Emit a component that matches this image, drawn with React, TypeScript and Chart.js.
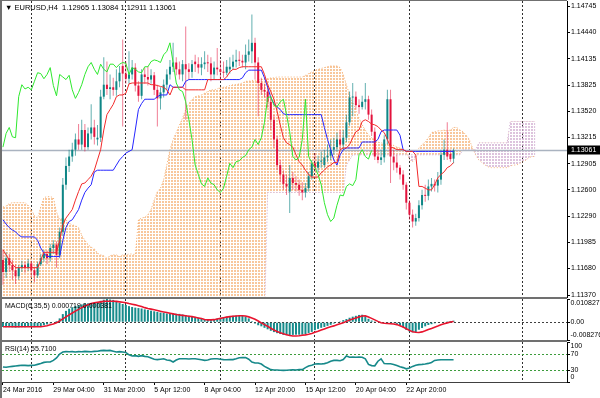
import React, { useEffect, useRef } from 'react';
import { Chart, registerables } from 'chart.js';

Chart.register(...registerables);

const FONT_FAMILY = '"Liberation Sans", Arial, "DejaVu Sans", sans-serif';
const FONT_SIZE = 7;

// ---------- Candles (EURUSD H4) ----------
const openP = [
  1.1178, 1.1164, 1.1180, 1.1172, 1.1166, 1.1159, 1.1169, 1.1172, 1.1169, 1.1174,
  1.1166, 1.1160, 1.1173, 1.1180, 1.1185, 1.1180, 1.1192, 1.1196, 1.1184, 1.1211,
  1.1266, 1.1288, 1.1299, 1.1307, 1.1319, 1.1313, 1.1330, 1.1310, 1.1326, 1.1333,
  1.1319, 1.1321, 1.1369, 1.1383, 1.1378, 1.1380, 1.1377, 1.1387, 1.1405, 1.1396,
  1.1390, 1.1395, 1.1403, 1.1382, 1.1370, 1.1395, 1.1392, 1.1389, 1.1394, 1.1377,
  1.1367, 1.1374, 1.1383, 1.1395, 1.1404, 1.1409, 1.1401, 1.1395, 1.1407, 1.1401,
  1.1398, 1.1410, 1.1407, 1.1403, 1.1407, 1.1409, 1.1408, 1.1395, 1.1403, 1.1401,
  1.1398, 1.1397, 1.1401, 1.1404, 1.1410, 1.1412, 1.1411, 1.1409, 1.1418, 1.1422,
  1.1432, 1.1409, 1.1385, 1.1377, 1.1375, 1.1363, 1.1342, 1.1319, 1.1289, 1.1278,
  1.1267, 1.1258, 1.1274, 1.1268, 1.1266, 1.1260, 1.1257, 1.1262, 1.1276, 1.1291,
  1.1286, 1.1293, 1.1289, 1.1298, 1.1300, 1.1307, 1.1310, 1.1319, 1.1313, 1.1321,
  1.1339, 1.1368, 1.1369, 1.1359, 1.1357, 1.1363, 1.1366, 1.1348, 1.1328, 1.1299,
  1.1295, 1.1298, 1.1319, 1.1366, 1.1299, 1.1292, 1.1286, 1.1278, 1.1266, 1.1245,
  1.1231, 1.1223, 1.1227, 1.1242, 1.1254, 1.1253, 1.1264, 1.1267, 1.1265, 1.1272,
  1.1301, 1.1307, 1.1302, 1.12965,
];
const highP = [
  1.1190, 1.1187, 1.1185, 1.1178, 1.1173, 1.1172, 1.1177, 1.1176, 1.1179, 1.1177,
  1.1170, 1.1176, 1.1185, 1.1190, 1.1189, 1.1197, 1.1201, 1.1200, 1.1216, 1.1274,
  1.1298, 1.1307, 1.1315, 1.1326, 1.1337, 1.1342, 1.1337, 1.1333, 1.1360, 1.1342,
  1.1336, 1.1377, 1.1415, 1.1410, 1.1395, 1.1391, 1.1401, 1.1405, 1.1436, 1.1410,
  1.1422, 1.1412, 1.1408, 1.1387, 1.1401, 1.1403, 1.1405, 1.1401, 1.1398, 1.1383,
  1.1380, 1.1389, 1.1401, 1.1412, 1.1432, 1.1415, 1.1410, 1.1412, 1.1451, 1.1408,
  1.1412, 1.1418, 1.1415, 1.1415, 1.1422, 1.1418, 1.1415, 1.1410, 1.1426, 1.1412,
  1.1410, 1.1412, 1.1415, 1.1418, 1.1424, 1.1422, 1.1418, 1.1430, 1.1436, 1.1465,
  1.1438, 1.1415, 1.1391, 1.1384, 1.1382, 1.1368, 1.1348, 1.1323, 1.1295, 1.1283,
  1.1278, 1.1289, 1.1281, 1.1276, 1.1272, 1.1269, 1.1268, 1.1281, 1.1295, 1.1303,
  1.1300, 1.1305, 1.1307, 1.1313, 1.1319, 1.1321, 1.1327, 1.1330, 1.1330, 1.1348,
  1.1375, 1.1385, 1.1375, 1.1366, 1.1370, 1.1385, 1.1370, 1.1354, 1.1333, 1.1307,
  1.1307, 1.1324, 1.1377, 1.1377, 1.1307, 1.1301, 1.1289, 1.1283, 1.1269, 1.1248,
  1.1237, 1.1232, 1.1248, 1.1260, 1.1266, 1.1272, 1.1274, 1.1272, 1.1281, 1.1307,
  1.1319, 1.1339, 1.1307, 1.13084,
];
const lowP = [
  1.1149, 1.1157, 1.1164, 1.1155, 1.1150, 1.1155, 1.1164, 1.1163, 1.1165, 1.1158,
  1.1152, 1.1157, 1.1171, 1.1176, 1.1173, 1.1176, 1.1185, 1.1169, 1.1180, 1.1206,
  1.1260, 1.1281, 1.1293, 1.1300, 1.1307, 1.1307, 1.1305, 1.1307, 1.1319, 1.1313,
  1.1312, 1.1316, 1.1366, 1.1371, 1.1366, 1.1370, 1.1370, 1.1380, 1.1334, 1.1384,
  1.1384, 1.1389, 1.1375, 1.1363, 1.1366, 1.1384, 1.1382, 1.1384, 1.1371, 1.1334,
  1.1354, 1.1368, 1.1377, 1.1389, 1.1398, 1.1394, 1.1389, 1.1387, 1.1342, 1.1389,
  1.1391, 1.1398, 1.1396, 1.1394, 1.1401, 1.1398, 1.1387, 1.1389, 1.1394, 1.1389,
  1.1391, 1.1394, 1.1396, 1.1401, 1.1403, 1.1405, 1.1403, 1.1401, 1.1410, 1.1408,
  1.1389, 1.1346, 1.1371, 1.1368, 1.1356, 1.1330, 1.1309, 1.1283, 1.1269, 1.1260,
  1.1254, 1.1233, 1.1260, 1.1258, 1.1253, 1.1248, 1.1251, 1.1258, 1.1272, 1.1281,
  1.1281, 1.1286, 1.1286, 1.1293, 1.1295, 1.1301, 1.1305, 1.1307, 1.1307, 1.1316,
  1.1335, 1.1346, 1.1354, 1.1349, 1.1354, 1.1354, 1.1342, 1.1323, 1.1295, 1.1291,
  1.1289, 1.1292, 1.1313, 1.1268, 1.1283, 1.1280, 1.1272, 1.1260, 1.1237, 1.1225,
  1.1216, 1.1218, 1.1223, 1.1237, 1.1246, 1.1248, 1.1258, 1.1258, 1.1257, 1.1266,
  1.1295, 1.1295, 1.1293, 1.12911,
];
const closeP = [
  1.1164, 1.1180, 1.1172, 1.1166, 1.1159, 1.1169, 1.1172, 1.1169, 1.1174, 1.1166,
  1.1160, 1.1173, 1.1180, 1.1185, 1.1180, 1.1192, 1.1196, 1.1184, 1.1211, 1.1266,
  1.1288, 1.1299, 1.1307, 1.1319, 1.1313, 1.1330, 1.1310, 1.1326, 1.1333, 1.1322,
  1.1321, 1.1369, 1.1383, 1.1378, 1.1380, 1.1377, 1.1387, 1.1397, 1.1396, 1.1390,
  1.1395, 1.1403, 1.1382, 1.1370, 1.1395, 1.1392, 1.1389, 1.1394, 1.1377, 1.1367,
  1.1374, 1.1383, 1.1395, 1.1404, 1.1409, 1.1401, 1.1395, 1.1407, 1.1401, 1.1398,
  1.1407, 1.1407, 1.1403, 1.1407, 1.1409, 1.1408, 1.1395, 1.1403, 1.1401, 1.1398,
  1.1397, 1.1404, 1.1404, 1.1410, 1.1412, 1.1411, 1.1409, 1.1418, 1.1422, 1.1432,
  1.1409, 1.1385, 1.1377, 1.1375, 1.1363, 1.1342, 1.1319, 1.1289, 1.1278, 1.1267,
  1.1264, 1.1274, 1.1268, 1.1266, 1.1260, 1.1257, 1.1262, 1.1276, 1.1291, 1.1286,
  1.1293, 1.1294, 1.1298, 1.1300, 1.1307, 1.1310, 1.1319, 1.1313, 1.1321, 1.1339,
  1.1368, 1.1369, 1.1359, 1.1357, 1.1363, 1.1366, 1.1348, 1.1328, 1.1299, 1.1295,
  1.1298, 1.1319, 1.1366, 1.1299, 1.1292, 1.1286, 1.1278, 1.1266, 1.1245, 1.1231,
  1.1223, 1.1227, 1.1242, 1.1254, 1.1253, 1.1264, 1.1267, 1.1265, 1.1272, 1.1301,
  1.1307, 1.1299, 1.1296, 1.13061,
];

// ---------- Ichimoku (9,26,52) ----------
const tenkan = [
  1.1190, 1.1184, 1.1178, 1.1173, 1.1169, 1.1169, 1.1169, 1.1169, 1.1169, 1.1169,
  1.1169, 1.1169, 1.1178, 1.1187, 1.1187, 1.1187, 1.1187, 1.1187, 1.1201, 1.1219,
  1.1227, 1.1232, 1.1237, 1.1248, 1.1258, 1.1267, 1.1268, 1.1272, 1.1276, 1.1283,
  1.1295, 1.1307, 1.1330, 1.1348, 1.1354, 1.1360, 1.1369, 1.1371, 1.1371, 1.1373,
  1.1384, 1.1385, 1.1385, 1.1385, 1.1385, 1.1385, 1.1385, 1.1383, 1.1383, 1.1382,
  1.1381, 1.1380, 1.1377, 1.1371, 1.1380, 1.1380, 1.1380, 1.1380, 1.1377, 1.1377,
  1.1377, 1.1377, 1.1377, 1.1377, 1.1377, 1.1389, 1.1389, 1.1389, 1.1389, 1.1389,
  1.1389, 1.1392, 1.1398, 1.1401, 1.1401, 1.1403, 1.1404, 1.1404, 1.1404, 1.1404,
  1.1404, 1.1404, 1.1404, 1.1395, 1.1383, 1.1375, 1.1366, 1.1352, 1.1336, 1.1321,
  1.1315, 1.1313, 1.1310, 1.1301, 1.1293, 1.1289, 1.1283, 1.1278, 1.1275, 1.1275,
  1.1275, 1.1280, 1.1283, 1.1287, 1.1289, 1.1292, 1.1292, 1.1307, 1.1309, 1.1309,
  1.1313, 1.1321, 1.1328, 1.1330, 1.1340, 1.1342, 1.1340, 1.1337, 1.1336, 1.1334,
  1.1330, 1.1327, 1.1319, 1.1310, 1.1309, 1.1307, 1.1307, 1.1307, 1.1305, 1.1305,
  1.1305, 1.1301, 1.1264, 1.1264, 1.1262, 1.1260, 1.1260, 1.1266, 1.1274, 1.1278,
  1.1281, 1.1286, 1.1288, 1.1292,
];
const kijun = [
  1.1225, 1.1220, 1.1216, 1.1213, 1.1211, 1.1207, 1.1205, 1.1205, 1.1205, 1.1205,
  1.1205, 1.1201, 1.1192, 1.1186, 1.1182, 1.1182, 1.1182, 1.1182, 1.1182, 1.1201,
  1.1216, 1.1223, 1.1225, 1.1231, 1.1237, 1.1248, 1.1257, 1.1262, 1.1266, 1.1281,
  1.1283, 1.1283, 1.1283, 1.1283, 1.1283, 1.1283, 1.1289, 1.1295, 1.1299, 1.1303,
  1.1305, 1.1307, 1.1330, 1.1354, 1.1361, 1.1366, 1.1366, 1.1366, 1.1366, 1.1369,
  1.1371, 1.1371, 1.1371, 1.1383, 1.1380, 1.1380, 1.1380, 1.1380, 1.1387, 1.1389,
  1.1389, 1.1389, 1.1389, 1.1389, 1.1389, 1.1389, 1.1389, 1.1389, 1.1389, 1.1389,
  1.1389, 1.1389, 1.1389, 1.1389, 1.1389, 1.1389, 1.1391, 1.1397, 1.1400, 1.1400,
  1.1400, 1.1400, 1.1400, 1.1391, 1.1380, 1.1368, 1.1361, 1.1357, 1.1354, 1.1349,
  1.1348, 1.1348, 1.1348, 1.1348, 1.1348, 1.1348, 1.1348, 1.1348, 1.1348, 1.1348,
  1.1348, 1.1348, 1.1333, 1.1319, 1.1307, 1.1295, 1.1289, 1.1301, 1.1307, 1.1309,
  1.1309, 1.1309, 1.1309, 1.1309, 1.1316, 1.1316, 1.1316, 1.1316, 1.1316, 1.1319,
  1.1328, 1.1330, 1.1330, 1.1330, 1.1330, 1.1330, 1.1324, 1.1307, 1.1305, 1.1305,
  1.1305, 1.1305, 1.1305, 1.1305, 1.1305, 1.1305, 1.1305, 1.1305, 1.1305, 1.1305,
  1.1305, 1.1305, 1.1305, 1.1305,
];
// Senkou spans, drawn 26 bars ahead (170 bars incl. future)
const spanA = [
  1.1240, 1.1241, 1.1244, 1.1245, 1.1245, 1.1245, 1.1245, 1.1245, 1.1242, 1.1237,
  1.1230, 1.1227, 1.1240, 1.1251, 1.1252, 1.1252, 1.1251, 1.1234, 1.1225, 1.1227,
  1.1225, 1.1221, 1.1219, 1.1218, 1.1216, 1.1207, 1.1201, 1.1196, 1.1193, 1.1191,
  1.1186, 1.1184, 1.1183, 1.1180, 1.1183, 1.1184, 1.1184, 1.1182, 1.1184, 1.1184,
  1.1185, 1.1185, 1.1184, 1.1225, 1.1227, 1.1228, 1.1231, 1.1237, 1.1248, 1.1258,
  1.1262, 1.1272, 1.1289, 1.1307, 1.1319, 1.1327, 1.1336, 1.1344, 1.1354, 1.1361,
  1.1366, 1.1369, 1.1370, 1.1371, 1.1373, 1.1375, 1.1377, 1.1377, 1.1378, 1.1380,
  1.1380, 1.1381, 1.1382, 1.1383, 1.1383, 1.1384, 1.1385, 1.1387, 1.1387, 1.1388,
  1.1388, 1.1389, 1.1389, 1.1390, 1.1390, 1.1391, 1.1391, 1.1392, 1.1392, 1.1392,
  1.1392, 1.1392, 1.1392, 1.1392, 1.1392, 1.1392, 1.1394, 1.1396, 1.1398, 1.1400,
  1.1401, 1.1402, 1.1403, 1.1404, 1.1405, 1.1405, 1.1405, 1.1403, 1.1395, 1.1383,
  1.1371, 1.1362, 1.1354, 1.1344, 1.1336, 1.1330, 1.1324, 1.1321, 1.1319, 1.1316,
  1.1315, 1.1314, 1.1313, 1.1313, 1.1312, 1.1310, 1.1309, 1.1307, 1.1305, 1.1295,
  1.1293, 1.1298, 1.1309, 1.1313, 1.1316, 1.1321, 1.1327, 1.1328, 1.1329, 1.1329,
  1.1330, 1.1329, 1.1330, 1.1333, 1.1333, 1.1330, 1.1328, 1.1324, 1.1319, 1.1309,
  1.1301, 1.1295, 1.1292, 1.1289, 1.1287, 1.1286, 1.1286, 1.1286, 1.1286, 1.1286,
  1.1286, 1.1288, 1.1289, 1.1289, 1.1291, 1.1293, 1.1295, 1.1298, 1.1299, 1.1299,
];
const spanB = [
  1.1110, 1.1110, 1.1110, 1.1110, 1.1110, 1.1110, 1.1110, 1.1110, 1.1110, 1.1110,
  1.1110, 1.1110, 1.1110, 1.1110, 1.1110, 1.1110, 1.1110, 1.1110, 1.1110, 1.1110,
  1.1110, 1.1110, 1.1110, 1.1110, 1.1110, 1.1110, 1.1110, 1.1110, 1.1110, 1.1110,
  1.1110, 1.1110, 1.1110, 1.1110, 1.1110, 1.1110, 1.1110, 1.1110, 1.1110, 1.1110,
  1.1110, 1.1110, 1.1110, 1.1110, 1.1110, 1.1110, 1.1110, 1.1110, 1.1110, 1.1110,
  1.1110, 1.1110, 1.1110, 1.1110, 1.1110, 1.1110, 1.1110, 1.1110, 1.1110, 1.1110,
  1.1110, 1.1110, 1.1110, 1.1110, 1.1110, 1.1110, 1.1110, 1.1110, 1.1110, 1.1110,
  1.1110, 1.1110, 1.1110, 1.1110, 1.1110, 1.1110, 1.1110, 1.1110, 1.1110, 1.1110,
  1.1110, 1.1110, 1.1110, 1.1110, 1.1257, 1.1257, 1.1257, 1.1257, 1.1257, 1.1257,
  1.1257, 1.1257, 1.1257, 1.1257, 1.1257, 1.1257, 1.1257, 1.1257, 1.1257, 1.1257,
  1.1257, 1.1257, 1.1257, 1.1257, 1.1257, 1.1257, 1.1257, 1.1257, 1.1257, 1.1289,
  1.1295, 1.1301, 1.1301, 1.1301, 1.1301, 1.1301, 1.1301, 1.1301, 1.1301, 1.1301,
  1.1301, 1.1301, 1.1301, 1.1301, 1.1301, 1.1301, 1.1301, 1.1301, 1.1301, 1.1301,
  1.1301, 1.1301, 1.1301, 1.1301, 1.1301, 1.1301, 1.1301, 1.1301, 1.1301, 1.1301,
  1.1301, 1.1301, 1.1301, 1.1301, 1.1301, 1.1301, 1.1307, 1.1307, 1.1307, 1.1307,
  1.1307, 1.1315, 1.1315, 1.1315, 1.1315, 1.1315, 1.1315, 1.1315, 1.1315, 1.1315,
  1.1315, 1.1340, 1.1340, 1.1340, 1.1340, 1.1340, 1.1340, 1.1340, 1.1340, 1.1340,
];
const CHIKOU_SHIFT = 26;

// ---------- MACD(6,35,5) ----------
const macdHist = [
  -0.0022, -0.0023, -0.0023, -0.0024, -0.0025, -0.0024, -0.0023, -0.0023, -0.0022, -0.0022,
  -0.0023, -0.0021, -0.0018, -0.0014, -0.0010, -0.0005, 0.0002, 0.0006, 0.0018, 0.0038,
  0.0053, 0.0063, 0.0070, 0.0076, 0.0079, 0.0083, 0.0087, 0.0088, 0.0088, 0.0090,
  0.0094, 0.0100, 0.0105, 0.010827, 0.0106, 0.0104, 0.0097, 0.0090, 0.0085, 0.0081,
  0.0075, 0.0071, 0.0068, 0.0066, 0.0064, 0.0060, 0.0057, 0.0054, 0.0051, 0.0048,
  0.0045, 0.0043, 0.0041, 0.0039, 0.0040, 0.0040, 0.0039, 0.0036, 0.0033, 0.0030,
  0.0028, 0.0025, 0.0021, 0.0017, 0.0013, 0.0011, 0.0013, 0.0015, 0.0017, 0.0019,
  0.0023, 0.0026, 0.0028, 0.0030, 0.0031, 0.0030, 0.0030, 0.0027, 0.0018, 0.0005,
  -0.0006, -0.0014, -0.0019, -0.0026, -0.0033, -0.0040, -0.0046, -0.0051, -0.0055, -0.0059,
  -0.0060, -0.0060, -0.0059, -0.0058, -0.0058, -0.0058, -0.0055, -0.0050, -0.0045, -0.0037,
  -0.0031, -0.0026, -0.0022, -0.0017, -0.0012, -0.0006, -0.0002, 0.0004, 0.0010, 0.0015,
  0.0021, 0.0026, 0.0030, 0.0034, 0.0035, 0.0028, 0.0016, 0.0008, 0.0004, 0.0001,
  0.0000, -0.0002, -0.0001, -0.0003, -0.0004, -0.0008, -0.0015, -0.0024, -0.0036, -0.0043,
  -0.0047, -0.0046, -0.0035, -0.0027, -0.0019, -0.0013, -0.0009, -0.0005, -0.0002, 0.0000,
  0.0002, 0.0004, 0.0006, 0.000719,
];
const macdSignal = [
  -0.0021, -0.0021, -0.0021, -0.0021, -0.0021, -0.0021, -0.0021, -0.0021, -0.0021, -0.0021,
  -0.0021, -0.0021, -0.0021, -0.0019, -0.0016, -0.0012, -0.0008, -0.0003, 0.0006, 0.0016,
  0.0025, 0.0034, 0.0043, 0.0052, 0.0060, 0.0068, 0.0076, 0.0082, 0.0087, 0.0091,
  0.0093, 0.0095, 0.0097, 0.0098, 0.0098, 0.0098, 0.0097, 0.0095, 0.0093, 0.0091,
  0.0087, 0.0084, 0.0081, 0.0077, 0.0073, 0.0068, 0.0064, 0.0061, 0.0058, 0.0055,
  0.0051, 0.0048, 0.0045, 0.0042, 0.0039, 0.0036, 0.0034, 0.0032, 0.0030, 0.0028,
  0.0026, 0.0023, 0.0020, 0.0017, 0.0013, 0.0011, 0.0011, 0.0012, 0.0015, 0.0018,
  0.0021, 0.0024, 0.0026, 0.0028, 0.0029, 0.0030, 0.0030, 0.0029, 0.0025, 0.0020,
  0.0014, 0.0006, -0.0003, -0.0011, -0.0019, -0.0028, -0.0036, -0.0043, -0.0049, -0.0054,
  -0.0058, -0.0062, -0.0064, -0.0064, -0.0063, -0.0061, -0.0059, -0.0056, -0.0052, -0.0047,
  -0.0042, -0.0036, -0.0031, -0.0026, -0.0021, -0.0017, -0.0012, -0.0007, -0.0002, 0.0004,
  0.0010, 0.0015, 0.0020, 0.0025, 0.0029, 0.0030, 0.0024, 0.0018, 0.0011, 0.0004,
  -0.0002, -0.0005, -0.0006, -0.0007, -0.0008, -0.0011, -0.0016, -0.0022, -0.0030, -0.0038,
  -0.0044, -0.0047, -0.0048, -0.0045, -0.0040, -0.0034, -0.0029, -0.0023, -0.0018, -0.0012,
  -0.0007, -0.0003, 0.0001, 0.000381,
];

// ---------- RSI(14) ----------
const rsi = [
  37.5, 37, 38, 39, 40, 41, 42, 41.5, 41, 41.5,
  42, 44, 46, 49, 50, 50, 54, 60, 70, 75,
  76, 75.5, 76, 75, 76, 75.5, 76.5, 76, 75.5, 76.5,
  77, 78.5, 79, 78.5, 79, 77, 75, 76, 75, 74,
  68, 65, 66, 64, 66, 64, 63, 60, 57, 56,
  57, 58, 55, 54, 50, 55, 58, 58, 58, 57.5,
  58, 58, 57, 55.5, 54, 55, 57.5, 58, 58, 57,
  56, 55.5, 56, 56, 58, 60.5, 61, 61, 57, 50,
  47.5, 47.5, 45, 39, 35, 31, 30, 30, 29.5, 29,
  29.5, 30, 30.5, 30, 31, 31, 36, 40, 42, 45,
  45.5, 45, 46, 48, 52, 54, 54, 53, 56, 65,
  62, 62.5, 62, 62.5, 62, 58, 44, 41, 40.5, 52,
  58, 46, 45.5, 45.5, 44, 41, 38, 36, 33, 35,
  39, 42, 43.5, 44, 45, 46.5, 49, 54, 55, 55.5,
  55.5, 55.5, 55.5, 55.71,
];

// ---------- Axes / labels ----------
const priceTicks = [1.14745, 1.1444, 1.14135, 1.13825, 1.1352, 1.13215, 1.12905, 1.126, 1.1229, 1.11985, 1.1168, 1.1137];
const macdTicks = [0.010827, 0, -0.008276];
const macdTickText = ['0.010827', '0.00', '-0.008276'];
const rsiTicks = [100, 70, 30, 0];
const rsiTickText = ['100', '70', '30', '0'];
const rsiLevels = [70, 30];
const timeLabels = ['24 Mar 2016', '29 Mar 04:00', '31 Mar 20:00', '5 Apr 12:00', '8 Apr 04:00', '12 Apr 20:00', '15 Apr 12:00', '20 Apr 04:00', '22 Apr 20:00'];
const timeLabelBars = [0, 16, 32, 48, 64, 80, 96, 112, 128];
const weekGridBars = [9, 39, 69, 99, 129, 165];

const X_MIN = -0.3;
const X_MAX = 179;
const PRICE_MIN = 1.11347;
const PRICE_MAX = 1.14809;

const BULL = '#0e8686';
const BEAR = '#e3123c';
const BULL_WICK = 'rgba(14,134,134,0.65)';
const BEAR_WICK = 'rgba(227,18,60,0.55)';
const SEP = '#707070';
const fontStr = `${FONT_SIZE}px ${FONT_FAMILY}`;
const titleFont = `7.5px ${FONT_FAMILY}`;

const zeroPad = (s: any) => { s.paddingTop = 0; s.paddingBottom = 0; s.paddingLeft = 0; s.paddingRight = 0; };

function weekGridAxis(position: string) {
  return {
    type: 'linear', min: X_MIN, max: X_MAX, position, offset: false,
    afterBuildTicks: (s: any) => { s.ticks = weekGridBars.map((v) => ({ value: v })); },
    afterFit: (s: any) => { s.height = 0; zeroPad(s); },
    ticks: { display: false },
    grid: { display: true, offset: false, drawOnChartArea: true, drawTicks: false, color: '#303030', lineWidth: 1, borderDash: [2, 2] },
    border: { display: false, dash: [2, 2] },
  };
}

function rightAxis(extra: any) {
  return {
    position: 'right',
    afterFit: (s: any) => { s.width = 33; zeroPad(s); },
    border: { display: true, color: '#000', width: 1 },
    ...extra,
  };
}

function frame(ctx: CanvasRenderingContext2D, chart: any, top: boolean, bottom: boolean) {
  const a = chart.chartArea;
  ctx.fillStyle = SEP;
  ctx.fillRect(0, 0, 2, chart.height);
  if (top) ctx.fillRect(0, a.top - 1, a.right, 1);
  if (bottom) ctx.fillRect(0, a.bottom, a.right, 1);
}

function sideLabels(chart: any, scaleId: string, values: number[], texts: string[]) {
  const s = chart.scales[scaleId];
  const ctx = chart.ctx as CanvasRenderingContext2D;
  ctx.font = fontStr;
  ctx.fillStyle = '#000';
  ctx.textAlign = 'left';
  values.forEach((v, i) => {
    const y = s.getPixelForValue(v);
    let base: CanvasTextBaseline = 'middle';
    let dy = 0;
    if (i === 0) { base = 'top'; dy = 1; }
    if (i === values.length - 1) { base = 'bottom'; dy = -1; }
    ctx.textBaseline = base;
    ctx.fillText(texts[i], s.left + 3.5, y + dy);
  });
}

export default function App() {
  const mainRef = useRef<HTMLCanvasElement | null>(null);
  const macdRef = useRef<HTMLCanvasElement | null>(null);
  const rsiRef = useRef<HTMLCanvasElement | null>(null);

  useEffect(() => {
    const charts: Chart[] = [];
    const n = closeP.length;
    const last = n - 1;
    const mainCanvas = mainRef.current!;
    const mctx = mainCanvas.getContext('2d')!;

    const makePattern = (color: string) => {
      const c = document.createElement('canvas');
      c.width = 3; c.height = 3;
      const g = c.getContext('2d')!;
      g.fillStyle = color;
      g.fillRect(0, 0, 2, 2);
      return mctx.createPattern(c, 'repeat');
    };
    const orangePat = makePattern('rgba(244,164,96,0.62)');
    const thistlePat = makePattern('rgba(210,175,210,0.75)');

    const pts = (arr: number[]) => arr.map((v, i) => ({ x: i, y: v }));
    const bodies = closeP.map((c, i) => ({ x: i, y: [openP[i], c] }));
    const bodyColors = closeP.map((c, i) => (c >= openP[i] ? BULL : BEAR));
    const wicks = closeP.map((c, i) => ({ x: i, y: [lowP[i], highP[i]] }));
    const wickColors = closeP.map((c, i) => (c >= openP[i] ? BULL_WICK : BEAR_WICK));
    const chikou = closeP.slice(CHIKOU_SHIFT).map((c, i) => ({ x: i, y: c }));
    const lastClose = closeP[last];

    const baseOpts: any = {
      responsive: false,
      animation: false,
      events: [],
      plugins: { legend: { display: false }, tooltip: { enabled: false } },
    };

    const title = `▼ EURUSD,H4  ${openP[last].toFixed(5)} ${highP[last].toFixed(5)} ${lowP[last].toFixed(5)} ${closeP[last].toFixed(5)}`;

    // ---- main chart ----
    charts.push(new Chart(mainCanvas, {
      type: 'line',
      data: {
        datasets: [
          {
            type: 'line', label: 'Senkou A', data: pts(spanA), borderColor: 'rgba(244,164,96,0.85)', borderWidth: 1,
            borderDash: [1, 2], pointRadius: 0, order: 20,
            fill: { target: 1, above: orangePat, below: thistlePat },
          },
          {
            type: 'line', label: 'Senkou B', data: pts(spanB), borderColor: 'rgba(205,165,205,0.95)', borderWidth: 1,
            borderDash: [1, 2], pointRadius: 0, order: 19, fill: false,
          },
          {
            type: 'line', label: 'Bid', data: [{ x: X_MIN, y: lastClose }, { x: X_MAX, y: lastClose }],
            borderColor: '#aab3c0', borderWidth: 1.5, pointRadius: 0, order: 15,
          },
          {
            type: 'bar', label: 'Wicks', data: wicks, backgroundColor: wickColors, barThickness: 1,
            grouped: false, borderWidth: 0, inflateAmount: 0, order: 10,
          },
          {
            type: 'bar', label: 'Bodies', data: bodies, backgroundColor: bodyColors, barThickness: 2,
            grouped: false, borderWidth: 0, inflateAmount: 0, minBarLength: 1, order: 9,
          },
          {
            type: 'line', label: 'Kijun', data: pts(kijun), borderColor: '#2626ff', borderWidth: 1,
            pointRadius: 0, order: 3,
          },
          {
            type: 'line', label: 'Tenkan', data: pts(tenkan), borderColor: '#f22a2a', borderWidth: 1,
            pointRadius: 0, order: 2,
          },
          {
            type: 'line', label: 'Chikou', data: chikou, borderColor: '#2ee82e', borderWidth: 1,
            pointRadius: 0, order: 1,
          },
        ] as any,
      },
      options: {
        ...baseOpts,
        layout: { padding: { left: 2, right: 0, top: 1, bottom: 1 } },
        scales: {
          x: weekGridAxis('bottom'),
          y: rightAxis({
            type: 'linear', min: PRICE_MIN, max: PRICE_MAX,
            afterBuildTicks: (s: any) => { s.ticks = priceTicks.map((v) => ({ value: v })); },
            ticks: {
              autoSkip: false, padding: 1, color: '#000', font: { family: FONT_FAMILY, size: FONT_SIZE },
              callback: (v: any) => Number(v).toFixed(5),
            },
            grid: { drawOnChartArea: false, drawTicks: true, tickLength: 3, tickColor: '#000', color: '#000' },
          }),
        },
      } as any,
      plugins: [{
        id: 'mainOverlay',
        afterDraw(chart: any) {
          const ctx = chart.ctx as CanvasRenderingContext2D;
          const a = chart.chartArea;
          ctx.save();
          frame(ctx, chart, true, true);
          ctx.font = titleFont;
          ctx.fillStyle = '#000';
          ctx.textAlign = 'left';
          ctx.textBaseline = 'middle';
          ctx.fillText(title, 5, 8);
          ctx.font = fontStr;
          const py = chart.scales.y.getPixelForValue(lastClose);
          ctx.fillStyle = '#000';
          ctx.fillRect(a.right + 1, Math.round(py) - 4.5, 33, 9);
          ctx.fillStyle = '#fff';
          ctx.fillText(lastClose.toFixed(5), a.right + 4, py);
          ctx.restore();
        },
      }],
    }));

    // ---- MACD ----
    charts.push(new Chart(macdRef.current!, {
      type: 'line',
      data: {
        datasets: [
          {
            type: 'bar', label: 'MACD', data: pts(macdHist), backgroundColor: '#178c8c', barThickness: 2,
            grouped: false, borderWidth: 0, inflateAmount: 0, order: 5,
          },
          {
            type: 'line', label: 'Signal', data: pts(macdSignal), borderColor: '#e8142e', borderWidth: 1.6,
            pointRadius: 0, order: 1,
          },
        ] as any,
      },
      options: {
        ...baseOpts,
        layout: { padding: { left: 2, right: 0, top: 1, bottom: 1 } },
        scales: {
          x: weekGridAxis('bottom'),
          y: rightAxis({
            type: 'linear', min: macdTicks[2], max: macdTicks[0],
            afterBuildTicks: (s: any) => { s.ticks = macdTicks.map((v) => ({ value: v })); },
            ticks: { display: false },
            grid: {
              drawOnChartArea: true, drawTicks: true, tickLength: 3, tickColor: '#000', tickBorderDash: [],
              color: (c: any) => (c.tick && c.tick.value === 0 ? '#404040' : 'rgba(0,0,0,0)'),
              borderDash: [2, 2],
            },
            border: { display: true, color: '#000', width: 1, dash: [2, 2] },
          }),
        },
      } as any,
      plugins: [{
        id: 'macdOverlay',
        afterDraw(chart: any) {
          const ctx = chart.ctx as CanvasRenderingContext2D;
          ctx.save();
          frame(ctx, chart, true, true);
          ctx.font = fontStr;
          ctx.fillStyle = '#000';
          ctx.textAlign = 'left';
          ctx.textBaseline = 'middle';
          ctx.fillText(`MACD(6,35,5) ${macdHist[last].toFixed(6)} ${macdSignal[last].toFixed(6)}`, 5, 8);
          sideLabels(chart, 'y', macdTicks, macdTickText);
          ctx.restore();
        },
      }],
    }));

    // ---- RSI ----
    charts.push(new Chart(rsiRef.current!, {
      type: 'line',
      data: {
        datasets: [
          {
            type: 'line', label: 'RSI', data: pts(rsi), borderColor: '#17898a', borderWidth: 1.6,
            pointRadius: 0, order: 1,
          },
        ] as any,
      },
      options: {
        ...baseOpts,
        layout: { padding: { left: 2, right: 0, top: 1, bottom: 0 } },
        scales: {
          x: {
            type: 'linear', min: X_MIN, max: X_MAX, position: 'bottom', offset: false,
            afterBuildTicks: (s: any) => { s.ticks = timeLabelBars.map((v) => ({ value: v })); },
            afterFit: (s: any) => { s.height = 16; zeroPad(s); },
            ticks: {
              display: true, autoSkip: false, maxRotation: 0, minRotation: 0, align: 'start', padding: 1,
              color: '#000', font: { family: FONT_FAMILY, size: FONT_SIZE },
              callback: (_v: any, i: number) => timeLabels[i] ?? '',
            },
            grid: { display: true, drawOnChartArea: false, drawTicks: true, tickLength: 3, color: '#000' },
            border: { display: true, color: '#404040', width: 1 },
          },
          xg: weekGridAxis('top'),
          y: rightAxis({
            type: 'linear', min: 0, max: 100,
            afterBuildTicks: (s: any) => { s.ticks = rsiTicks.map((v) => ({ value: v })); },
            ticks: { display: false },
            grid: {
              drawOnChartArea: true, drawTicks: true, tickLength: 3, tickColor: '#000', tickBorderDash: [],
              color: (c: any) => (c.tick && rsiLevels.includes(c.tick.value) ? '#3c9c3c' : 'rgba(0,0,0,0)'),
              borderDash: [2, 2],
            },
            border: { display: true, color: '#000', width: 1, dash: [2, 2] },
          }),
        },
      } as any,
      plugins: [{
        id: 'rsiOverlay',
        afterDraw(chart: any) {
          const ctx = chart.ctx as CanvasRenderingContext2D;
          ctx.save();
          frame(ctx, chart, true, false);
          ctx.font = fontStr;
          ctx.fillStyle = '#000';
          ctx.textAlign = 'left';
          ctx.textBaseline = 'middle';
          ctx.fillText(`RSI(14) ${rsi[last].toFixed(4)}`, 5, 8);
          sideLabels(chart, 'y', rsiTicks, rsiTickText);
          ctx.restore();
        },
      }],
    }));

    return () => { charts.forEach((c) => c.destroy()); };
  }, []);

  return (
    <div style={{ position: 'fixed', left: 0, top: 0, width: 600, height: 398, background: '#fff', overflow: 'hidden' }}>
      <canvas ref={mainRef} width={600} height={298} style={{ position: 'absolute', left: 0, top: 0 }} />
      <canvas ref={macdRef} width={600} height={43} style={{ position: 'absolute', left: 0, top: 298 }} />
      <canvas ref={rsiRef} width={600} height={57} style={{ position: 'absolute', left: 0, top: 341 }} />
    </div>
  );
}
